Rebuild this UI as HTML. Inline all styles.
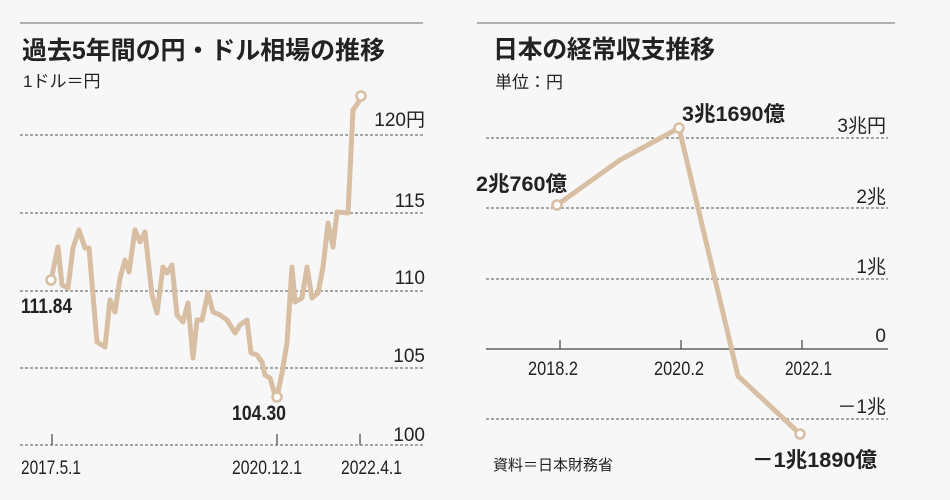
<!DOCTYPE html>
<html><head><meta charset="utf-8"><style>
body{margin:0;background:#f7f7f7;}
svg{display:block;}
text{font-family:"Liberation Sans","Noto Sans CJK JP",sans-serif;fill:#222;}
</style></head><body>
<svg width="950" height="500" viewBox="0 0 950 500" xmlns="http://www.w3.org/2000/svg">
<rect width="950" height="500" fill="#f7f7f7"/>
<line x1="20" y1="23" x2="423" y2="23" stroke="#999" stroke-width="1.5"/>
<line x1="477" y1="23" x2="895" y2="23" stroke="#999" stroke-width="1.5"/>
<text x="22" y="59" font-size="25" font-weight="bold" textLength="363">過去5年間の円・ドル相場の推移</text>
<text x="23" y="87" font-size="17" fill="#333">1ドル＝円</text>
<text x="493" y="58" font-size="25" font-weight="bold" textLength="222">日本の経常収支推移</text>
<text x="495" y="88" font-size="17" fill="#333">単位：円</text>
<g stroke="#555" stroke-width="1" stroke-dasharray="3,2">
<line x1="20" y1="135" x2="424" y2="135"/><line x1="20" y1="213" x2="424" y2="213"/>
<line x1="20" y1="291" x2="424" y2="291"/><line x1="20" y1="368" x2="424" y2="368"/>
<line x1="20" y1="445" x2="424" y2="445"/>
<line x1="486" y1="138" x2="888" y2="138"/><line x1="486" y1="208" x2="888" y2="208"/>
<line x1="486" y1="279" x2="888" y2="279"/><line x1="486" y1="419" x2="888" y2="419"/>
</g>
<line x1="486" y1="349" x2="888" y2="349" stroke="#444" stroke-width="1.2"/>
<g stroke="#444" stroke-width="1.2">
<line x1="52" y1="434" x2="52" y2="445"/><line x1="277" y1="434" x2="277" y2="445"/><line x1="360" y1="434" x2="360" y2="445"/>
<line x1="560" y1="340" x2="560" y2="349"/><line x1="681" y1="340" x2="681" y2="349"/><line x1="802" y1="340" x2="802" y2="349"/>
</g>
<g font-size="19" text-anchor="end" fill="#333">
<text x="425" y="126">120円</text><text x="425" y="207">115</text><text x="425" y="284">110</text>
<text x="425" y="362">105</text><text x="425" y="441">100</text>
<text x="886" y="132">3兆円</text><text x="886" y="203">2兆</text><text x="886" y="273">1兆</text>
<text x="886" y="342">0</text><text x="886" y="413">－1兆</text>
</g>
<g font-size="19" fill="#333" lengthAdjust="spacingAndGlyphs">
<text x="21" y="474" textLength="60" lengthAdjust="spacingAndGlyphs">2017.5.1</text>
<text x="232" y="474" textLength="70" lengthAdjust="spacingAndGlyphs">2020.12.1</text>
<text x="341" y="474" textLength="61" lengthAdjust="spacingAndGlyphs">2022.4.1</text>
<text x="528" y="375" textLength="50" lengthAdjust="spacingAndGlyphs">2018.2</text>
<text x="654" y="375" textLength="50" lengthAdjust="spacingAndGlyphs">2020.2</text>
<text x="785" y="375" textLength="47" lengthAdjust="spacingAndGlyphs">2022.1</text>
</g>
<text x="493" y="470" font-size="15" fill="#333">資料＝日本財務省</text>
<g font-size="21" font-weight="bold">
<text x="21" y="313" textLength="51" lengthAdjust="spacingAndGlyphs">111.84</text>
<text x="232" y="420" textLength="54" lengthAdjust="spacingAndGlyphs">104.30</text>
<text x="476" y="191" textLength="91" lengthAdjust="spacingAndGlyphs">2兆760億</text>
<text x="682" y="121" textLength="103" lengthAdjust="spacingAndGlyphs">3兆1690億</text>
<text x="752" y="467" textLength="125" lengthAdjust="spacingAndGlyphs">－1兆1890億</text>
</g>
<g fill="none" stroke="#d8bfa3" stroke-width="5" stroke-linejoin="round">
<polyline points="51,280 58,247 62,285 68,288 73,248 79,230 85,248 89,248 97,342 105,347 110,300 115,312 120,278 125,260 129,272 135,230 140,242 145,232 152,295 157,313 163,267 167,273 172,265 177,315 183,322 188,303 193,358 197,320 202,320 208,293 213,312 220,315 227,320 235,333 240,325 247,320 251,353 257,355 262,362 265,375 270,378 275,395 277,397 282,373 287,343 292,267 295,302 302,298 307,267 312,298 318,293 323,267 328,223 333,247 337,212 348,213 353,110 358,103 361,96"/>
<polyline points="557,205 620,160 679,128 738,376 800,434"/>
</g>
<g fill="#fff" stroke="#d8bfa3" stroke-width="2.5">
<circle cx="51" cy="280" r="4.5"/><circle cx="277" cy="397" r="4.5"/><circle cx="361" cy="96" r="4.5"/>
<circle cx="557" cy="205" r="4.5"/><circle cx="679" cy="128" r="4.5"/><circle cx="800" cy="434" r="4.5"/>
</g>
</svg>
</body></html>
